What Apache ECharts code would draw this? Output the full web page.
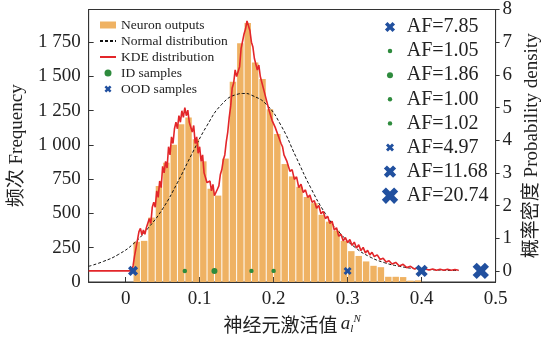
<!DOCTYPE html>
<html>
<head>
<meta charset="utf-8">
<style>
  html, body { margin: 0; padding: 0; background: #fff; }
  #chart { width: 550px; height: 340px; }
</style>
<script src="https://cdn.jsdelivr.net/npm/echarts@6.0.0/dist/echarts.min.js"></script>
</head>
<body>
<div id="chart"></div>
<script>
// 直方图：每个 bin 的中心与频次（bin 宽 0.01）
const binCenters = [0.015, 0.025, 0.035, 0.045, 0.055, 0.065, 0.075, 0.085, 0.095, 0.105,
  0.115, 0.125, 0.135, 0.145, 0.155, 0.165, 0.175, 0.185, 0.195, 0.205,
  0.215, 0.225, 0.235, 0.245, 0.255, 0.265, 0.275, 0.285, 0.295, 0.305,
  0.315, 0.325, 0.335, 0.345, 0.355, 0.365, 0.375, 0.385, 0.395];
const binCounts = [293, 300, 470, 700, 870, 1000, 1150, 1200, 1040, 880,
  680, 630, 900, 1460, 1740, 1888, 1600, 1480, 1260, 1080,
  860, 770, 694, 620, 575, 490, 440, 375, 300, 225,
  190, 150, 118, 108, 38, 38, 36, 10, 12];

// 正态分布曲线（右轴，概率密度）
const normX = [-0.05, -0.03, -0.01, 0.01, 0.03, 0.05, 0.07, 0.09, 0.11, 0.13, 0.15, 0.16, 0.17,
  0.19, 0.21, 0.23, 0.25, 0.27, 0.29, 0.31, 0.33, 0.35, 0.37, 0.39, 0.41, 0.43, 0.45];
const normY = [0.14, 0.29, 0.5, 0.82, 1.3, 1.9, 2.7, 3.6, 4.45, 5.1, 5.4, 5.43, 5.38,
  5.1, 4.45, 3.5, 2.55, 1.75, 1.15, 0.72, 0.43, 0.25, 0.14, 0.07, 0.04, 0.02, 0.01];

// KDE 曲线（右轴）
const kdeX = [-0.05, 0.008, 0.010, 0.012, 0.014, 0.016, 0.018, 0.020, 0.022, 0.024, 0.026, 0.028,
  0.030, 0.032, 0.034, 0.036, 0.038, 0.040, 0.042, 0.044, 0.046, 0.048, 0.050, 0.052, 0.054,
  0.056, 0.058, 0.060, 0.062, 0.064, 0.066, 0.068, 0.070, 0.072, 0.074, 0.076, 0.078, 0.080,
  0.082, 0.084, 0.086, 0.088, 0.090, 0.092, 0.094, 0.096, 0.098, 0.100, 0.102, 0.104, 0.106,
  0.108, 0.110, 0.112, 0.114, 0.116, 0.118, 0.120, 0.122, 0.124, 0.126, 0.128, 0.130, 0.132,
  0.134, 0.136, 0.138, 0.140, 0.142, 0.144, 0.146, 0.148, 0.150, 0.152, 0.154, 0.156, 0.158,
  0.160, 0.162, 0.164, 0.166, 0.168, 0.170, 0.172, 0.174, 0.176, 0.178, 0.180, 0.182, 0.184,
  0.186, 0.188, 0.190, 0.192, 0.194, 0.196, 0.198, 0.200, 0.202, 0.204, 0.206, 0.208, 0.210,
  0.212, 0.214, 0.216, 0.218, 0.220, 0.222, 0.225, 0.228, 0.231, 0.234, 0.237, 0.240, 0.243,
  0.246, 0.249, 0.252, 0.255, 0.258, 0.261, 0.264, 0.267, 0.270, 0.273, 0.276, 0.279, 0.282,
  0.285, 0.288, 0.291, 0.294, 0.297, 0.300, 0.303, 0.306, 0.309, 0.312, 0.315, 0.318, 0.321,
  0.324, 0.327, 0.330, 0.333, 0.336, 0.340, 0.344, 0.348, 0.352, 0.356, 0.360, 0.365, 0.370,
  0.375, 0.380, 0.385, 0.390, 0.395, 0.400, 0.405, 0.410, 0.415, 0.420, 0.425, 0.430, 0.435,
  0.440, 0.445, 0.450];
const kdeY = [0, 0, 0.15, 0.45, 0.7, 0.95, 1.2, 1.3, 1.1, 1.25, 1.12, 1.32,
  1.3, 1.6, 1.45, 1.95, 2.1, 1.95, 2.45, 2.25, 2.75, 2.55, 3.2, 3.0, 3.35,
  3.15, 3.8, 3.55, 4.1, 3.9, 4.35, 4.55, 4.35, 4.75, 4.55, 4.9, 4.7, 5.0,
  4.75, 4.92, 4.55, 4.6, 4.25, 4.45, 3.9, 4.1, 3.6, 3.8, 3.35, 3.55, 3.0,
  3.0, 2.7, 2.65, 2.75, 2.45, 2.65, 2.3, 2.25, 2.5, 2.6, 2.95, 3.1, 3.4,
  3.55, 3.95, 4.25, 4.7, 5.05, 5.6, 5.75, 6.15, 5.95, 6.0, 6.25, 6.8, 6.85,
  7.25, 7.4, 7.65, 7.5, 7.35, 7.0, 6.85, 6.5, 6.45, 6.15, 6.3, 5.95, 6.0,
  5.6, 5.55, 5.25, 5.2, 4.9, 4.85, 4.6, 4.6, 4.4, 4.35, 4.15, 4.1, 3.9,
  3.8, 3.55, 3.5, 3.35, 3.3, 3.05, 3.1, 2.8, 2.88, 2.55, 2.65, 2.4, 2.48,
  2.25, 2.32, 2.1, 2.15, 1.92, 2.0, 1.75, 1.82, 1.6, 1.67, 1.45, 1.52, 1.25,
  1.32, 1.06, 1.12, 0.92, 1.02, 0.86, 0.96, 0.78, 0.88, 0.7, 0.8, 0.62, 0.72,
  0.55, 0.63, 0.49, 0.57, 0.44, 0.49, 0.35, 0.39, 0.27, 0.31, 0.21, 0.26, 0.15,
  0.2, 0.1, 0.14, 0.06, 0.1, 0.03, 0.06, 0.03, 0.06, 0.02, 0.05, 0.02, 0.05,
  0.02, 0.04, 0.02];

// 样本点：横坐标、类型、AF 值
const sampleX = [0.01, 0.08, 0.12, 0.17, 0.20, 0.30, 0.40, 0.48];
const sampleType = ["OOD", "ID", "ID", "ID", "ID", "OOD", "OOD", "OOD"];
const sampleAF = [7.85, 1.05, 1.86, 1.00, 1.02, 4.97, 11.68, 20.74];

const xTicks = [0, 0.1, 0.2, 0.3, 0.4, 0.5];
const leftTicks = [0, 250, 500, 750, 1000, 1250, 1500, 1750];
const rightTicks = [0, 1, 2, 3, 4, 5, 6, 7, 8];

const SERIF = "'Liberation Serif', 'Noto Sans CJK SC', serif";
const TXT = "#222";
const AX = "#333";
const X_PATH = "path://M2.5 0L5 2.5L7.5 0L10 2.5L7.5 5L10 7.5L7.5 10L5 7.5L2.5 10L0 7.5L2.5 5L0 2.5Z";
const BLUE = "#21509f";
const GREEN = "#2e8b3d";

function markSize(type, af) {
  return type === "ID" ? 4.4 * Math.sqrt(af) : 3.6 * Math.sqrt(af);
}

function fmtThousands(v) {
  if (v < 1000) return String(v);
  return Math.floor(v / 1000) + " " + String(v % 1000).padStart(3, "0");
}

function samplePoints(type) {
  return sampleX
    .map((x, i) => ({ x, i }))
    .filter((d) => sampleType[d.i] === type)
    .map((d) => [d.x, 0, sampleAF[d.i]]);
}

// 右侧 AF 列表，每个一个小 legend（图标中心对齐 x=390）
const afLegends = sampleAF.map((af, i) => {
  const t = sampleType[i];
  const s = markSize(t, af);
  return {
    orient: "vertical",
    left: 390 - s / 2,
    top: 27 + 24.1 * i - 12,
    padding: 0,
    itemWidth: 23.4,
    itemHeight: s,
    selectedMode: false,
    data: [{ name: t === "ID" ? "ID samples" : "OOD samples", icon: t === "ID" ? "circle" : X_PATH }],
    formatter: () => "AF=" + af.toFixed(2),
    textStyle: { fontFamily: SERIF, fontSize: 20, lineHeight: 24, color: TXT },
  };
});

const chart = echarts.init(document.getElementById("chart"));
chart.setOption({
  animation: false,
  backgroundColor: "#fff",
  grid: { left: 88, right: 46, top: 9, bottom: 58, show: true, borderColor: AX, borderWidth: 1 },
  legend: [
    {
      orient: "vertical",
      left: 99,
      top: 17,
      padding: 0,
      itemGap: 0,
      itemWidth: 16,
      itemHeight: 7,
      selectedMode: false,
      data: [
        { name: "Neuron outputs", icon: "rect" },
        { name: "Normal distribution", itemStyle: { opacity: 0 } },
        { name: "KDE distribution", itemStyle: { opacity: 0 } },
        { name: "ID samples", icon: "circle" },
        { name: "OOD samples", icon: X_PATH },
      ],
      textStyle: { fontFamily: SERIF, fontSize: 13.5, lineHeight: 16, color: TXT },
    },
    ...afLegends,
  ],
  xAxis: {
    type: "value",
    min: -0.05,
    max: 0.5,
    name: "{zh|神经元激活值} {it|a}{sub|l}{sup|N}",
    nameLocation: "middle",
    nameGap: 29,
    nameTextStyle: {
      rich: {
        zh: { fontFamily: "'Noto Sans CJK SC'", fontSize: 19, color: TXT },
        it: { fontFamily: SERIF, fontStyle: "italic", fontSize: 19, color: TXT },
        sub: { fontFamily: SERIF, fontStyle: "italic", fontSize: 11, color: TXT, verticalAlign: "bottom", padding: [10, 0, 0, 0] },
        sup: { fontFamily: SERIF, fontStyle: "italic", fontSize: 11, color: TXT, verticalAlign: "top", padding: [0, 0, 10, 0] },
      },
    },
    axisLine: { show: true, onZero: false, lineStyle: { color: AX } },
    axisTick: { show: true, inside: true, length: 5, customValues: xTicks, lineStyle: { color: AX } },
    axisLabel: { customValues: xTicks, margin: 8, fontFamily: SERIF, fontSize: 19, color: TXT, formatter: (v) => String(v) },
    splitLine: { show: false },
  },
  yAxis: [
    {
      type: "value",
      position: "left",
      min: 0,
      max: 1987,
      name: "频次 Frequency",
      nameLocation: "middle",
      nameRotate: 90,
      nameGap: 59,
      nameTextStyle: { fontFamily: SERIF, fontSize: 19, color: TXT },
      axisLine: { show: true, onZero: false, lineStyle: { color: AX } },
      axisTick: { show: true, inside: true, length: 5, customValues: leftTicks, lineStyle: { color: AX } },
      axisLabel: { customValues: leftTicks, margin: 8, fontFamily: SERIF, fontSize: 19, color: TXT, formatter: fmtThousands },
      splitLine: { show: false },
    },
    {
      type: "value",
      position: "right",
      min: -0.34,
      max: 8,
      name: "概率密度 Probability density",
      nameLocation: "middle",
      nameRotate: 90,
      nameGap: 20,
      nameTextStyle: { fontFamily: SERIF, fontSize: 19, color: TXT },
      axisLine: { show: true, onZero: false, lineStyle: { color: AX } },
      axisTick: { show: true, inside: false, length: 4, customValues: rightTicks, lineStyle: { color: AX } },
      axisLabel: { customValues: rightTicks, margin: 7, fontFamily: SERIF, fontSize: 19, color: TXT },
      splitLine: { show: false },
    },
  ],
  series: [
    {
      name: "Neuron outputs",
      type: "bar",
      yAxisIndex: 0,
      barWidth: "87%",
      itemStyle: { color: "#efb263" },
      data: binCenters.map((c, i) => [c, binCounts[i]]),
    },
    {
      name: "Normal distribution",
      type: "line",
      yAxisIndex: 1,
      smooth: true,
      symbol: "none",
      lineStyle: { color: "#111", width: 1, type: [3, 2] },
      itemStyle: { color: "#111" },
      data: normX.map((x, i) => [x, normY[i]]),
    },
    {
      name: "KDE distribution",
      type: "line",
      yAxisIndex: 1,
      symbol: "none",
      lineStyle: { color: "#e3262a", width: 1.6 },
      itemStyle: { color: "#e3262a" },
      data: kdeX.map((x, i) => [x, kdeY[i]]),
    },
    {
      name: "ID samples",
      type: "scatter",
      yAxisIndex: 1,
      symbol: "circle",
      symbolSize: (v) => markSize("ID", v[2]),
      itemStyle: { color: GREEN, opacity: 1 },
      data: samplePoints("ID"),
      z: 5,
    },
    {
      name: "OOD samples",
      type: "scatter",
      yAxisIndex: 1,
      symbol: X_PATH,
      symbolSize: (v) => markSize("OOD", v[2]),
      itemStyle: { color: BLUE, opacity: 1 },
      data: samplePoints("OOD"),
      z: 5,
    },
  ],
});
</script>
</body>
</html>
